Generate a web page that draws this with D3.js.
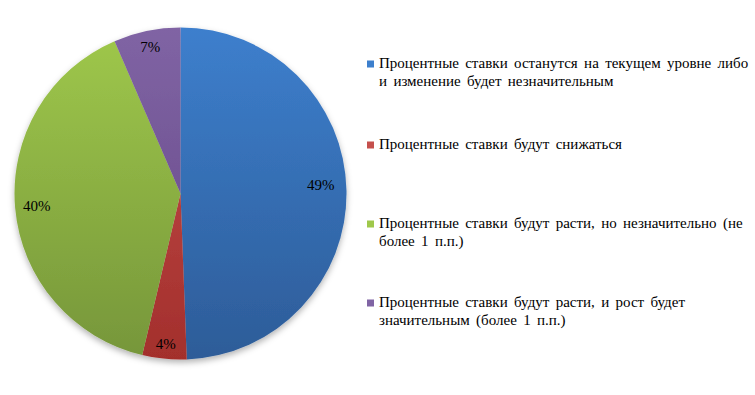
<!DOCTYPE html>
<html lang="ru">
<head>
  <meta charset="UTF-8">
  <title>Ожидания по процентным ставкам</title>
  <script src="https://cdnjs.cloudflare.com/ajax/libs/d3/7.8.5/d3.min.js"></script>
  <style>
    body { margin: 0; background: #fff; }
    svg { display: block; }
  </style>
</head>
<body>
<svg id="chart" width="755" height="395"></svg>
<script>
// data (shares, %)
const categories = [
  "Процентные ставки останутся на текущем уровне либо и изменение будет незначительным",
  "Процентные ставки будут снижаться",
  "Процентные ставки будут расти, но незначительно (не более 1 п.п.)",
  "Процентные ставки будут расти, и рост будет значительным (более 1 п.п.)"
];
const values = [49.4, 4.3, 39.8, 6.5];
const labels = ["49%", "4%", "40%", "7%"];
// legend lines as wrapped in the picture
const legendLines = [
  ["Процентные ставки останутся на текущем уровне либо", "и изменение будет незначительным"],
  ["Процентные ставки будут снижаться"],
  ["Процентные ставки будут расти, но незначительно (не", "более 1 п.п.)"],
  ["Процентные ставки будут расти, и рост будет", "значительным (более 1 п.п.)"]
];
const colorsTop = ["#3d7fcd", "#c5504d", "#9fc84b", "#8064a4"];
const colorsBottom = ["#2d5c98", "#a32f2c", "#76963a", "#634585"];

const FONT = "Liberation Serif";
const svg = d3.select("#chart");
const cx = 180.5, cy = 193.5, r = 166;

const defs = svg.append("defs");
const f = defs.append("filter").attr("id", "shadow")
  .attr("x", "-10%").attr("y", "-10%").attr("width", "120%").attr("height", "125%");
f.append("feDropShadow").attr("dx", 0).attr("dy", 3).attr("stdDeviation", 3)
  .attr("flood-color", "#000").attr("flood-opacity", 0.3);

values.forEach((v, i) => {
  const g = defs.append("linearGradient").attr("id", "grad" + i)
    .attr("gradientUnits", "userSpaceOnUse")
    .attr("x1", 0).attr("y1", -r).attr("x2", 0).attr("y2", r);
  g.append("stop").attr("offset", "0%").attr("stop-color", colorsTop[i]);
  g.append("stop").attr("offset", "100%").attr("stop-color", colorsBottom[i]);
});

const pie = d3.pie().sort(null).value(d => d);
const arcs = pie(values);
const arc = d3.arc().innerRadius(0).outerRadius(r);
// Excel-like "inside end" placement: how far out each label sits
const labelPos = [0.845, 0.91, 0.87, 0.9];

const pieG = svg.append("g").attr("transform", `translate(${cx},${cy})`);
pieG.append("g").attr("filter", "url(#shadow)")
  .selectAll("path")
  .data(arcs)
  .join("path")
  .attr("d", arc)
  .attr("fill", (d, i) => `url(#grad${i})`);

pieG.selectAll("text.lbl")
  .data(arcs)
  .join("text")
  .attr("class", "lbl")
  .attr("transform", (d, i) => {
    const lr = r * labelPos[i];
    const c = d3.arc().innerRadius(lr).outerRadius(lr).centroid(d);
    return `translate(${c[0]},${c[1] - (i === 0 ? 6 : 0)})`;
  })
  .attr("text-anchor", "middle")
  .attr("dy", "0.35em")
  .attr("font-family", FONT)
  .attr("font-size", 15)
  .text((d, i) => labels[i]);

// legend
const legendY = [68, 149, 228, 307];
const leg = svg.append("g");
legendLines.forEach((lines, i) => {
  const y = legendY[i];
  leg.append("rect")
    .attr("x", 367).attr("y", y - 7.5)
    .attr("width", 7).attr("height", 7)
    .attr("fill", colorsTop[i]);
  lines.forEach((t, j) => {
    leg.append("text")
      .attr("x", 379).attr("y", y + j * 18)
      .attr("font-family", FONT)
      .attr("font-size", 15)
      .attr("word-spacing", 2.6)
      .text(t);
  });
});
</script>
</body>
</html>
